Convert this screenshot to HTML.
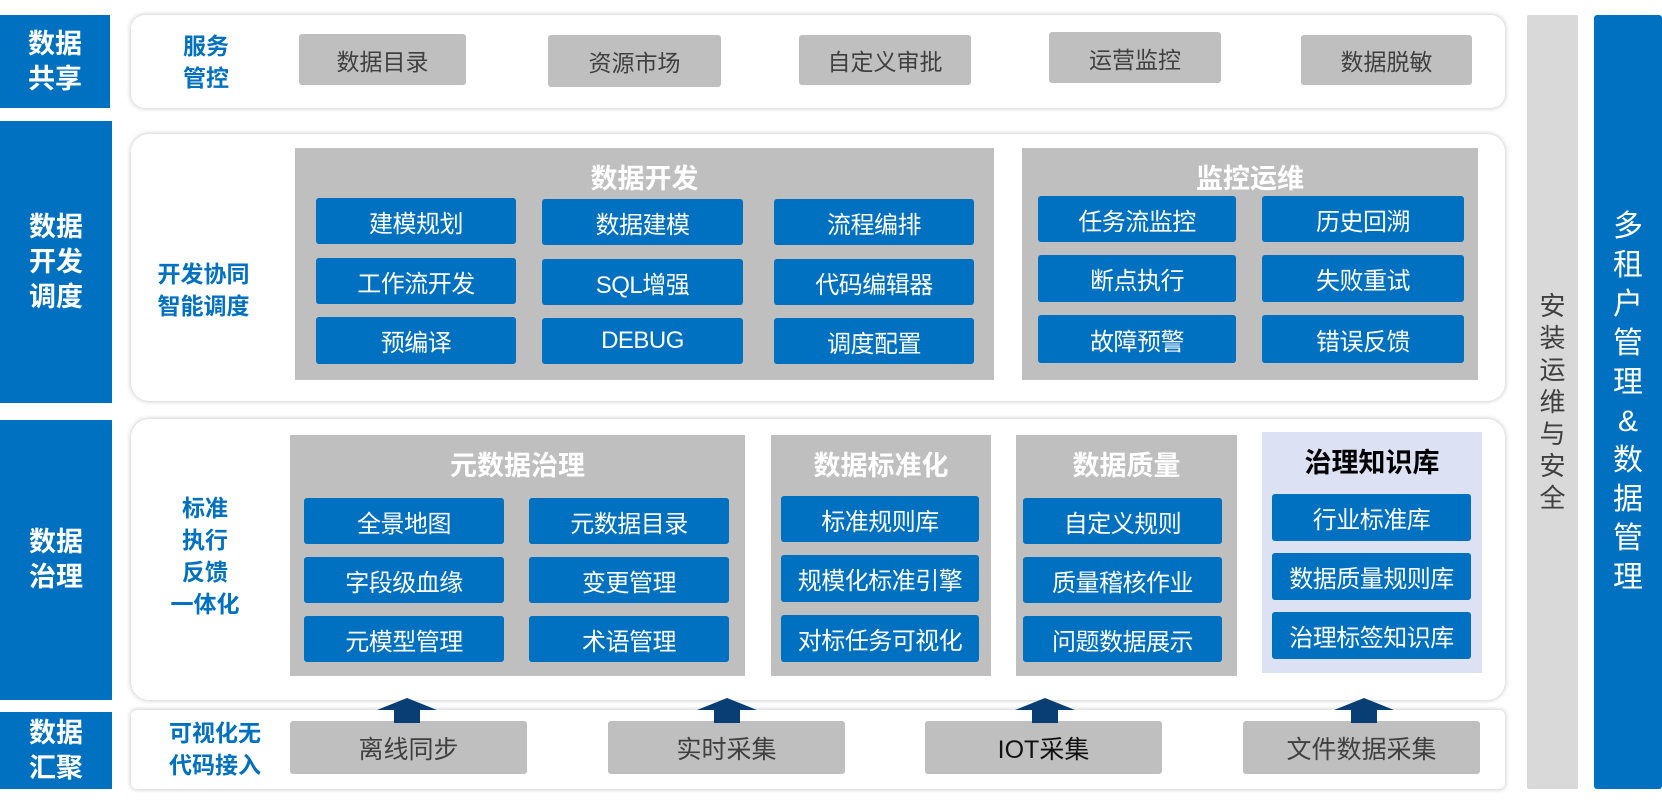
<!DOCTYPE html>
<html><head><meta charset="utf-8"><style>
*{margin:0;padding:0;box-sizing:border-box}
body{width:1662px;height:805px;background:#fff;position:relative;overflow:hidden;font-family:"Liberation Sans","Noto Sans CJK SC",sans-serif}
.a{position:absolute;display:flex;align-items:center;justify-content:center;text-align:center;white-space:nowrap}
.lab{background:#0070c0;color:#fff;font-weight:bold;font-size:27px;line-height:35px}
.pan{position:absolute;background:#fff;border-radius:14px;box-shadow:0 0 4px 1px rgba(0,0,0,0.18)}
.g{background:#bfbfbf;color:#404040;font-size:23px;border-radius:3px}
.b{background:#0070c0;color:#fff;font-size:24px;border-radius:3px;letter-spacing:-0.5px}
.blk{position:absolute;background:#bfbfbf}
.t{position:absolute;left:0;right:0;text-align:center;color:#fff;font-weight:bold;font-size:27px}
.bl{color:#0070c0;font-weight:bold;font-size:23px;line-height:32px}
.arr{position:absolute;width:0;height:0;border-left:30px solid transparent;border-right:30px solid transparent;border-bottom:12px solid #083e73}
.stem{position:absolute;width:26px;height:13px;background:#083e73}
</style></head><body>
<div class="a lab" style="left:0;top:15px;width:110px;height:93px">数据<br>共享</div>
<div class="a lab" style="left:0;top:121px;width:112px;height:282px">数据<br>开发<br>调度</div>
<div class="a lab" style="left:0;top:420px;width:112px;height:280px">数据<br>治理</div>
<div class="a lab" style="left:0;top:712px;width:112px;height:77px">数据<br>汇聚</div>

<div class="pan" style="left:131px;top:15px;width:1374px;height:93px"></div>
<div class="pan" style="left:131px;top:134px;width:1374px;height:267px;border-radius:18px"></div>
<div class="pan" style="left:131px;top:419px;width:1374px;height:281px;border-radius:18px"></div>
<div class="pan" style="left:131px;top:710px;width:1374px;height:79px;border-radius:6px"></div>

<div class="a" style="left:1527px;top:15px;width:51px;height:774px;background:#d9d9d9;color:#404040;font-size:26px;line-height:32px;border-radius:2px">安<br>装<br>运<br>维<br>与<br>安<br>全</div>
<div class="a" style="left:1594px;top:15px;width:68px;height:774px;background:#0070c0;color:#fff;font-size:30px;line-height:39px;border-radius:3px">多<br>租<br>户<br>管<br>理<br>&amp;<br>数<br>据<br>管<br>理</div>

<!-- row1 -->
<div class="a bl" style="left:166px;top:22px;width:80px;height:80px">服务<br>管控</div>
<div class="a g" style="left:299px;top:34px;width:167px;height:51px">数据目录</div>
<div class="a g" style="left:548px;top:35px;width:173px;height:52px">资源市场</div>
<div class="a g" style="left:799px;top:35px;width:172px;height:50px">自定义审批</div>
<div class="a g" style="left:1049px;top:32px;width:172px;height:51px">运营监控</div>
<div class="a g" style="left:1301px;top:35px;width:171px;height:50px">数据脱敏</div>

<!-- row2 -->
<div class="a bl" style="left:146px;top:255px;width:115px;height:70px">开发协同<br>智能调度</div>
<div class="blk" style="left:295px;top:148px;width:699px;height:232px"><div class="t" style="top:9px">数据开发</div></div>
<div class="a b" style="left:316px;top:198px;width:200px;height:46px">建模规划</div>
<div class="a b" style="left:542px;top:199px;width:201px;height:46px">数据建模</div>
<div class="a b" style="left:774px;top:199px;width:200px;height:46px">流程编排</div>
<div class="a b" style="left:316px;top:258px;width:200px;height:46px">工作流开发</div>
<div class="a b" style="left:542px;top:259px;width:201px;height:46px">SQL增强</div>
<div class="a b" style="left:774px;top:259px;width:200px;height:46px">代码编辑器</div>
<div class="a b" style="left:316px;top:317px;width:200px;height:47px">预编译</div>
<div class="a b" style="left:542px;top:318px;width:201px;height:46px">DEBUG</div>
<div class="a b" style="left:774px;top:318px;width:200px;height:46px">调度配置</div>

<div class="blk" style="left:1022px;top:148px;width:456px;height:232px"><div class="t" style="top:9px">监控运维</div></div>
<div class="a b" style="left:1038px;top:196px;width:198px;height:46px">任务流监控</div>
<div class="a b" style="left:1262px;top:196px;width:202px;height:46px">历史回溯</div>
<div class="a b" style="left:1038px;top:255px;width:198px;height:47px">断点执行</div>
<div class="a b" style="left:1262px;top:255px;width:202px;height:47px">失败重试</div>
<div class="a b" style="left:1038px;top:315px;width:198px;height:48px">故障预警</div>
<div class="a b" style="left:1262px;top:315px;width:202px;height:48px">错误反馈</div>

<!-- row3 -->
<div class="a bl" style="left:150px;top:492px;width:110px;height:128px">标准<br>执行<br>反馈<br>一体化</div>
<div class="blk" style="left:290px;top:435px;width:455px;height:241px"><div class="t" style="top:9px">元数据治理</div></div>
<div class="a b" style="left:304px;top:498px;width:200px;height:46px">全景地图</div>
<div class="a b" style="left:529px;top:498px;width:200px;height:46px">元数据目录</div>
<div class="a b" style="left:304px;top:557px;width:200px;height:46px">字段级血缘</div>
<div class="a b" style="left:529px;top:557px;width:200px;height:46px">变更管理</div>
<div class="a b" style="left:304px;top:616px;width:200px;height:46px">元模型管理</div>
<div class="a b" style="left:529px;top:616px;width:200px;height:46px">术语管理</div>

<div class="blk" style="left:771px;top:435px;width:220px;height:241px"><div class="t" style="top:9px">数据标准化</div></div>
<div class="a b" style="left:781px;top:496px;width:198px;height:46px">标准规则库</div>
<div class="a b" style="left:781px;top:555px;width:198px;height:47px">规模化标准引擎</div>
<div class="a b" style="left:781px;top:615px;width:198px;height:47px">对标任务可视化</div>

<div class="blk" style="left:1016px;top:435px;width:221px;height:241px"><div class="t" style="top:9px">数据质量</div></div>
<div class="a b" style="left:1023px;top:498px;width:199px;height:46px">自定义规则</div>
<div class="a b" style="left:1023px;top:557px;width:199px;height:46px">质量稽核作业</div>
<div class="a b" style="left:1023px;top:616px;width:199px;height:46px">问题数据展示</div>

<div class="blk" style="left:1262px;top:432px;width:220px;height:241px;background:#dde1f4"><div class="t" style="top:9px;color:#000">治理知识库</div></div>
<div class="a b" style="left:1272px;top:494px;width:199px;height:47px">行业标准库</div>
<div class="a b" style="left:1272px;top:553px;width:199px;height:47px">数据质量规则库</div>
<div class="a b" style="left:1272px;top:612px;width:199px;height:47px">治理标签知识库</div>

<!-- row4 -->
<div class="a bl" style="left:155px;top:716px;width:120px;height:66px">可视化无<br>代码接入</div>
<div class="a g" style="left:290px;top:721px;width:237px;height:53px;font-size:25px">离线同步</div>
<div class="a g" style="left:608px;top:721px;width:237px;height:53px;font-size:25px">实时采集</div>
<div class="a g" style="left:925px;top:721px;width:237px;height:53px;font-size:25px;color:#111">IOT采集</div>
<div class="a g" style="left:1243px;top:721px;width:237px;height:53px;font-size:25px">文件数据采集</div>

<div class="arr" style="left:377px;top:698px"></div><div class="stem" style="left:394px;top:710px"></div>
<div class="arr" style="left:697px;top:698px"></div><div class="stem" style="left:714px;top:710px"></div>
<div class="arr" style="left:1015px;top:698px"></div><div class="stem" style="left:1032px;top:710px"></div>
<div class="arr" style="left:1334px;top:698px"></div><div class="stem" style="left:1351px;top:710px"></div>
</body></html>
